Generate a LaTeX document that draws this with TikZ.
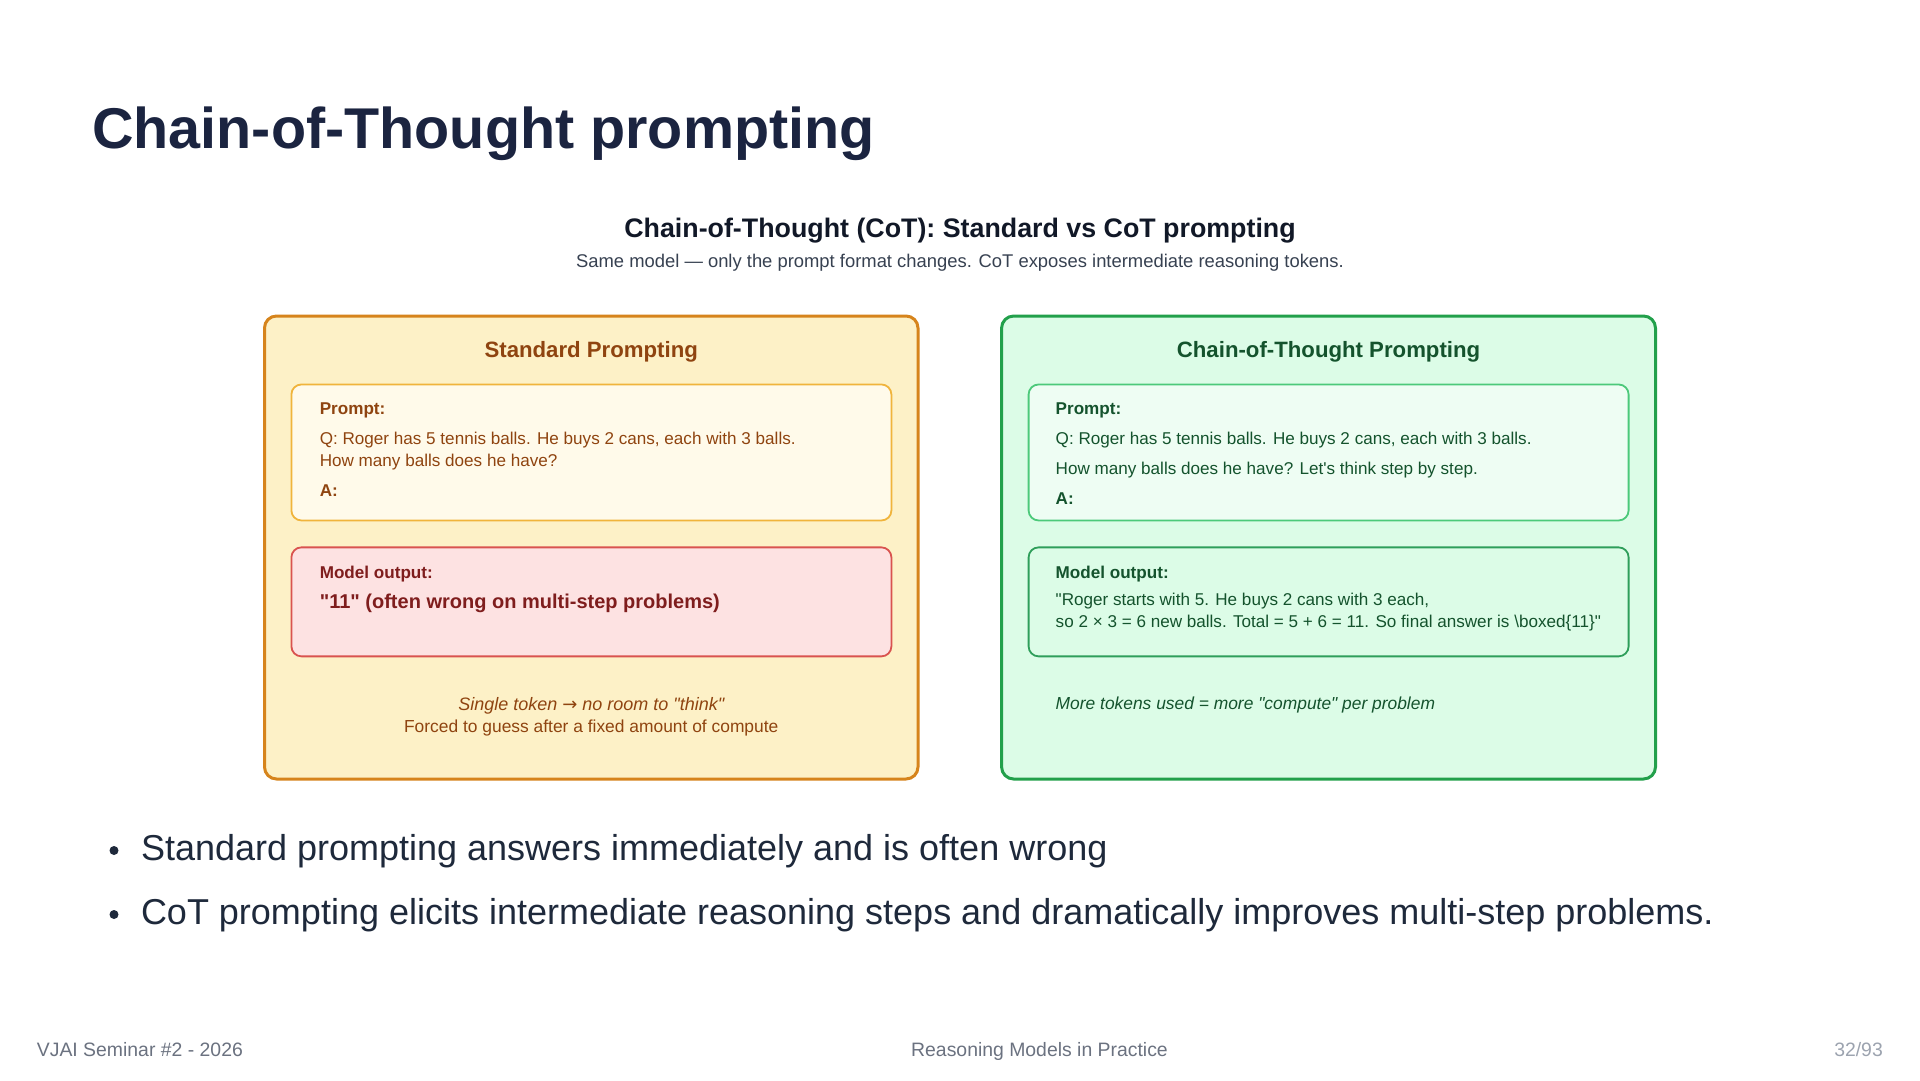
\documentclass[tikz,border=0pt]{standalone}
\usepackage{fontspec}
\setmainfont{Liberation Sans}[Ligatures=TeXOff]
\newfontfamily\arrowfont{DejaVu Sans}[Scale=1.0]
\definecolor{navy}{HTML}{1B2440}
\definecolor{subC}{HTML}{111827}
\definecolor{capC}{HTML}{374151}
\definecolor{amberB}{HTML}{D6841C}
\definecolor{amberF}{HTML}{FDF1C7}
\definecolor{brownT}{HTML}{8F4410}
\definecolor{promptB}{HTML}{F0B43C}
\definecolor{promptF}{HTML}{FFFAEA}
\definecolor{redB}{HTML}{D9534F}
\definecolor{redF}{HTML}{FDE2E2}
\definecolor{redT}{HTML}{7F1D1D}
\definecolor{greenB}{HTML}{22A04B}
\definecolor{greenF}{HTML}{DCFCE7}
\definecolor{greenT}{HTML}{14532D}
\definecolor{gpromptB}{HTML}{4CC97A}
\definecolor{gpromptF}{HTML}{EEFDF3}
\definecolor{goutB}{HTML}{2E9E5A}
\definecolor{footC}{HTML}{6B7280}
\definecolor{pageC}{HTML}{9CA3AF}
\definecolor{bulletC}{HTML}{1E293B}
\begin{document}
\begin{tikzpicture}[x=1pt,y=-1pt,
  outerbox/.style={draw, rounded corners=12pt, line width=3pt, inner sep=0pt},
  innerbox/.style={draw, rounded corners=10pt, line width=1.8pt, inner sep=0pt, minimum width=600pt},
  txt/.style={inner sep=0pt, anchor=base west},
  ctxt/.style={inner sep=0pt, anchor=base},
  boxfont/.style={font=\fontsize{17.1}{20}\selectfont},
  boxbold/.style={font=\fontsize{17.1}{20}\selectfont\bfseries},
]
\useasboundingbox[fill=white] (0,0) rectangle (1920,1080);

% main title
\node[txt, text=navy, font=\fontsize{57.5}{66}\selectfont\bfseries] (title) at (92,148) {Chain-of-Thought prompting};

% figure heading
\node[ctxt, text=subC, font=\fontsize{26.8}{30}\selectfont\bfseries] (subtitle) at (960,237.5) {Chain-of-Thought (CoT): Standard vs CoT prompting};
\node[ctxt, text=capC, font=\fontsize{18.4}{22}\selectfont] (caption) at (960,267.6) {Same model — only the prompt format changes. CoT exposes intermediate reasoning tokens.};

% outer panels
\node[outerbox, draw=amberB, fill=amberF, minimum width=653.5pt, minimum height=463pt] (stdpanel) at (591.25,547.5) {};
\node[outerbox, draw=greenB, fill=greenF, minimum width=653.9pt, minimum height=463pt] (cotpanel) at (1328.55,547.5) {};

\node[ctxt, text=brownT, font=\fontsize{22.2}{26}\selectfont\bfseries] (stdtitle) at (591.25,357) {Standard Prompting};
\node[ctxt, text=greenT, font=\fontsize{22.2}{26}\selectfont\bfseries] (cottitle) at (1328.55,357) {Chain-of-Thought Prompting};

% standard: prompt box
\node[innerbox, draw=promptB, fill=promptF, minimum height=136pt] (stdprompt) at (591.4,452.45) {};
\node[txt, boxbold, text=brownT] (stdpl) at (319.6,414) {Prompt:};
\node[txt, boxfont, text=brownT] (stdq1) at (319.6,444.5) {Q: Roger has 5 tennis balls. He buys 2 cans, each with 3 balls.};
\node[txt, boxfont, text=brownT] (stdq2) at (319.6,466.5) {How many balls does he have?};
\node[txt, boxbold, text=brownT] (stda) at (319.6,496) {A:};

% standard: output box
\node[innerbox, draw=redB, fill=redF, minimum height=109pt] (stdout) at (591.4,601.85) {};
\node[txt, boxbold, text=redT] (stdol) at (319.6,578) {Model output:};
\node[txt, text=redT, font=\fontsize{20}{24}\selectfont\bfseries] (stdans) at (319.6,608.5) {"11" (often wrong on multi-step problems)};

\node[ctxt, text=brownT, font=\fontsize{18}{20}\selectfont\itshape] (stdn1) at (591.25,710) {Single token {\arrowfont\upshape →} no room to "think"};
\node[ctxt, text=brownT, font=\fontsize{17.4}{20}\selectfont] (stdn2) at (591.25,732) {Forced to guess after a fixed amount of compute};

% CoT: prompt box
\node[innerbox, draw=gpromptB, fill=gpromptF, minimum height=136pt] (cotprompt) at (1328.6,452.45) {};
\node[txt, boxbold, text=greenT] (cotpl) at (1055.5,414) {Prompt:};
\node[txt, boxfont, text=greenT] (cotq1) at (1055.5,444.5) {Q: Roger has 5 tennis balls. He buys 2 cans, each with 3 balls.};
\node[txt, boxfont, text=greenT] (cotq2) at (1055.5,474) {How many balls does he have? Let's think step by step.};
\node[txt, boxbold, text=greenT] (cota) at (1055.5,504.5) {A:};

% CoT: output box
\node[innerbox, draw=goutB, fill=greenF, minimum height=109pt] (cotout) at (1328.6,601.85) {};
\node[txt, boxbold, text=greenT] (cotol) at (1055.5,578) {Model output:};
\node[txt, boxfont, text=greenT] (coto1) at (1055.5,605) {"Roger starts with 5. He buys 2 cans with 3 each,};
\node[txt, boxfont, text=greenT] (coto2) at (1055.5,627) {so 2 × 3 = 6 new balls. Total = 5 + 6 = 11. So final answer is \textbackslash boxed\{11\}"};

\node[txt, text=greenT, font=\fontsize{17.4}{20}\selectfont\itshape] (cotn) at (1055.5,709) {More tokens used = more "compute" per problem};

% bullets
\fill[bulletC] (114,850.5) circle (4.5pt);
\node[txt, text=bulletC, font=\fontsize{36}{40}\selectfont] (b1) at (140.8,860) {Standard prompting answers immediately and is often wrong};
\fill[bulletC] (114,914.5) circle (4.5pt);
\node[txt, text=bulletC, font=\fontsize{36}{40}\selectfont] (b2) at (140.8,924) {CoT prompting elicits intermediate reasoning steps and dramatically improves multi-step problems.};

% footer
\node[txt, text=footC, font=\fontsize{19.4}{22}\selectfont] (footl) at (36.7,1056) {VJAI Seminar \#2 - 2026};
\node[ctxt, text=footC, font=\fontsize{19.4}{22}\selectfont] (footc) at (1039.5,1056) {Reasoning Models in Practice};
\node[inner sep=0pt, anchor=base east, text=pageC, font=\fontsize{19.4}{22}\selectfont] (footr) at (1883,1056) {32/93};
\end{tikzpicture}
\end{document}
